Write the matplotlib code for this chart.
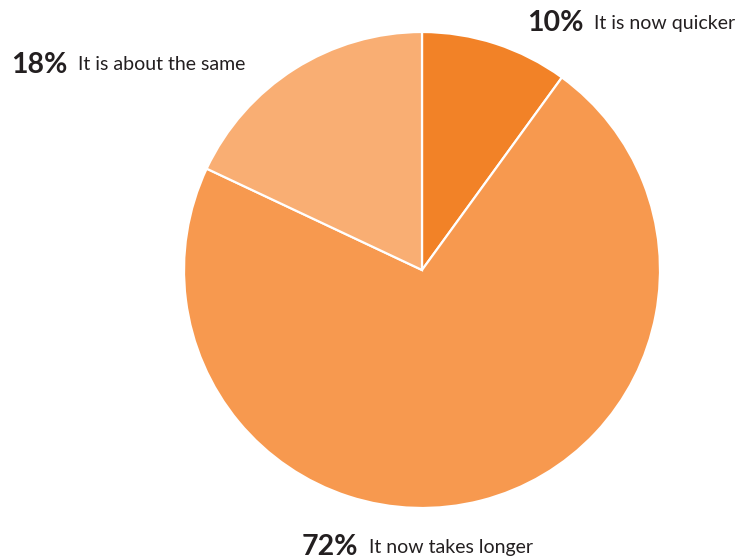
import matplotlib
matplotlib.use("Agg")
import matplotlib.pyplot as plt

# Survey responses
categories = ["It is now quicker", "It now takes longer", "It is about the same"]
shares = [10, 72, 18]
colors = ["#F28227", "#F7994F", "#F9AE73"]

W, H = 737, 560
fig = plt.figure(figsize=(W / 100, H / 100), dpi=100)
ax = fig.add_axes([0, 0, 1, 1])

ax.pie(shares, colors=colors, startangle=90, counterclock=False,
       center=(422, H - 270), radius=238,
       wedgeprops=dict(edgecolor="white", linewidth=1.6))
ax.set_xlim(0, W)
ax.set_ylim(0, H)
ax.set_aspect("equal")
ax.axis("off")

text_color = "#231F20"
label_pos = {
    "It is now quicker": (527, H - 23),
    "It now takes longer": (302, H - 547),
    "It is about the same": (11, H - 65),
}

for cat, val in zip(categories, shares):
    x, y = label_pos[cat]
    t = ax.text(x, y, f"{val}%", fontsize=20.5, fontweight="bold",
                family="Lato", color=text_color, va="center", ha="left")
    fig.canvas.draw()
    bb = t.get_window_extent().transformed(ax.transData.inverted())
    ax.text(bb.x1 + 11, y, cat, fontsize=14, family="Lato",
            color=text_color, va="center", ha="left")

fig.savefig("out.png", dpi=100)
